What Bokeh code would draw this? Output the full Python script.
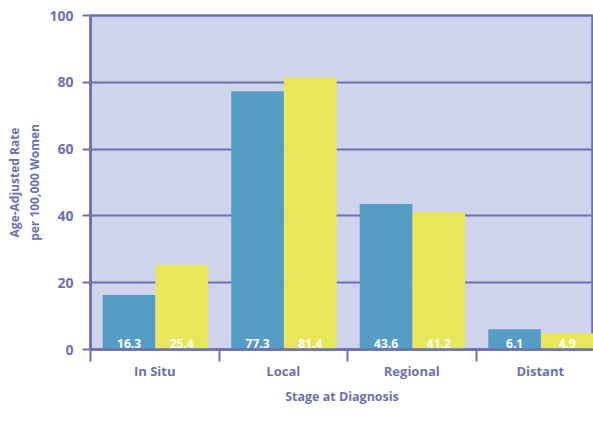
from bokeh.plotting import figure
from bokeh.models import (ColumnDataSource, FixedTicker, LabelSet, Legend, LegendItem, Range1d)
from bokeh.core.properties import value
from bokeh.embed import file_html
from bokeh.resources import INLINE

stages = ["In Situ", "Local", "Regional", "Distant"]
rate_1988 = [16.3, 77.3, 43.6, 6.1]
rate_1999 = [25.4, 81.4, 41.2, 4.9]
y_ticks = [0, 20, 40, 60, 80, 100]

SLATE = "#6b72b2"
BLUE = "#569dc6"
YELLOW = "#e8e65a"
FONT = "Open Sans"

idx = list(range(len(stages)))
src88 = ColumnDataSource(dict(x=[i + 0.30 for i in idx], top=rate_1988,
                              lab=[f"{v:.1f}" for v in rate_1988], base=[0] * 4))
src99 = ColumnDataSource(dict(x=[i + 0.71 for i in idx], top=rate_1999,
                              lab=[f"{v:.1f}" for v in rate_1999], base=[0] * 4))

p = figure(frame_width=503, frame_height=334, output_backend="svg", toolbar_location=None,
           x_range=Range1d(0, 3.914), y_range=Range1d(0, 100),
           min_border_left=90, min_border_top=15, min_border_right=0, min_border_bottom=0)
p.background_fill_color = "#cfd3ec"
p.border_fill_color = "white"
p.outline_line_color = SLATE
p.outline_line_width = 2.5

r88 = p.vbar(x="x", top="top", width=0.41, source=src88, fill_color=BLUE, line_color=None)
r99 = p.vbar(x="x", top="top", width=0.41, source=src99, fill_color=YELLOW, line_color=None)

for s in (src88, src99):
    p.add_layout(LabelSet(x="x", y="base", text="lab", source=s, y_offset=2,
                          text_align="center", text_baseline="bottom",
                          text_color="white", text_font=value(FONT), text_font_style="bold",
                          text_font_size="12px"))

# y axis
p.yaxis.ticker = FixedTicker(ticks=y_ticks)
p.yaxis.major_tick_out = 8
p.yaxis.major_tick_in = 0
p.yaxis.minor_tick_line_color = None
p.yaxis.major_tick_line_color = SLATE
p.yaxis.major_tick_line_width = 2
p.yaxis.axis_line_color = SLATE
p.yaxis.axis_line_width = 2.5
p.yaxis.major_label_text_color = SLATE
p.yaxis.major_label_text_font = FONT
p.yaxis.major_label_text_font_style = "bold"
p.yaxis.major_label_text_font_size = "14px"
p.yaxis.major_label_standoff = 9
p.yaxis.axis_label = "Age-Adjusted Rate\nper 100,000 Women"
p.yaxis.axis_label_text_color = SLATE
p.yaxis.axis_label_text_font = FONT
p.yaxis.axis_label_text_font_style = "bold"
p.yaxis.axis_label_text_font_size = "12px"
p.yaxis.axis_label_standoff = 3

# x axis
p.xaxis.ticker = FixedTicker(ticks=[i + 0.5 for i in idx], minor_ticks=idx + [len(stages)])
p.xaxis.major_label_overrides = {i + 0.5: s for i, s in zip(idx, stages)}
p.xaxis.major_tick_line_color = None
p.xaxis.major_tick_out = 0
p.xaxis.major_tick_in = 0
p.xaxis.minor_tick_out = 12
p.xaxis.minor_tick_in = 0
p.xaxis.minor_tick_line_color = SLATE
p.xaxis.minor_tick_line_width = 2
p.xaxis.axis_line_color = SLATE
p.xaxis.axis_line_width = 2.5
p.xaxis.major_label_text_color = SLATE
p.xaxis.major_label_text_font = FONT
p.xaxis.major_label_text_font_style = "bold"
p.xaxis.major_label_text_font_size = "13px"
p.xaxis.major_label_standoff = 0
p.xaxis.axis_label = "Stage at Diagnosis"
p.xaxis.axis_label_text_color = SLATE
p.xaxis.axis_label_text_font = FONT
p.xaxis.axis_label_text_font_style = "bold"
p.xaxis.axis_label_text_font_size = "12.5px"
p.xaxis.axis_label_standoff = 5

p.xgrid.grid_line_color = None
p.ygrid.grid_line_color = SLATE
p.ygrid.grid_line_width = 2

legend = Legend(items=[LegendItem(label="1988", renderers=[r88]),
                       LegendItem(label="1999", renderers=[r99])],
                location=(197, 0), orientation="horizontal",
                border_line_color=SLATE, border_line_width=2,
                background_fill_color="white", background_fill_alpha=1,
                label_text_color=SLATE, label_text_font=FONT,
                label_text_font_style="bold", label_text_font_size="12px",
                glyph_width=16, glyph_height=16, label_height=16, label_standoff=6,
                spacing=11, padding=3, margin=0)
p.add_layout(legend, "below")

open("out.html", "w").write(file_html(p, INLINE))
